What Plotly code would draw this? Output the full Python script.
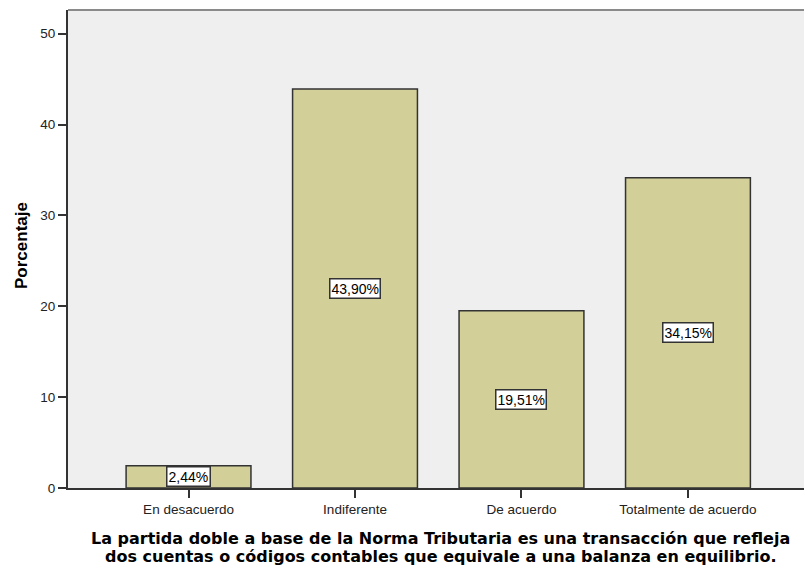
import plotly.graph_objects as go

categories = ["En desacuerdo", "Indiferente", "De acuerdo", "Totalmente de acuerdo"]
values = [2.44, 43.90, 19.51, 34.15]
labels = ["2,44%", "43,90%", "19,51%", "34,15%"]
y_ticks = [0, 10, 20, 30, 40, 50]
x_title_lines = [
    "La partida doble a base de la Norma Tributaria es una transacción que refleja",
    "dos cuentas o códigos contables que equivale a una balanza en equilibrio.",
]
y_title = "Porcentaje"

W, H = 804, 566
ML, MR, MT, MB = 68, 0, 10, 78
plot_w = W - ML - MR
plot_h = H - MT - MB

def px_x(px):
    return (px - ML) / plot_w

def px_y(py):
    return (H - MB - py) / plot_h

xs = list(range(len(categories)))

fig = go.Figure()
fig.add_trace(go.Bar(
    x=xs, y=values, width=0.75,
    marker=dict(color="#d3cf98", line=dict(color="#333333", width=1.5)),
    hoverinfo="skip",
))

tick_font = dict(family="Liberation Sans, Arial", size=13.5, color="#222")

annotations = []
for i, (v, t) in enumerate(zip(values, labels)):
    annotations.append(dict(
        x=i, y=v / 2, xref="x", yref="y", text=t, showarrow=False,
        font=dict(family="Liberation Sans, Arial", size=14, color="#000"),
        bgcolor="white", bordercolor="#333333", borderwidth=1.5, borderpad=1,
    ))

for j, line in enumerate(x_title_lines):
    annotations.append(dict(
        x=px_x(440), y=px_y(538 + 18 * j), xref="paper", yref="paper",
        text="<b>" + line + "</b>", showarrow=False,
        font=dict(family="DejaVu Sans", size=16, color="#000"),
        xanchor="center", yanchor="middle",
    ))

annotations.append(dict(
    x=px_x(21), y=px_y(245), xref="paper", yref="paper",
    text="<b>" + y_title + "</b>", showarrow=False, textangle=-90,
    font=dict(family="Liberation Sans, Arial", size=17, color="#000"),
    xanchor="center", yanchor="middle",
))

fig.update_layout(
    width=W, height=H,
    margin=dict(l=ML, r=MR, t=MT, b=MB),
    paper_bgcolor="white", plot_bgcolor="#efefef",
    showlegend=False,
    annotations=annotations,
    xaxis=dict(
        tickmode="array", tickvals=xs, ticktext=categories,
        range=[-0.724, 3.697], showgrid=False, zeroline=False,
        showline=True, linecolor="#333333", linewidth=2,
        ticks="outside", ticklen=8, tickcolor="#333333", tickwidth=1.5,
        tickfont=tick_font, automargin=False, fixedrange=True,
    ),
    yaxis=dict(
        tickmode="array", tickvals=y_ticks,
        range=[0, 52.6], showgrid=False, zeroline=False,
        showline=True, linecolor="#333333", linewidth=2,
        ticks="outside", ticklen=8, tickcolor="#333333", tickwidth=1.5,
        tickfont=tick_font, automargin=False, fixedrange=True,
    ),
    shapes=[dict(type="line", xref="paper", yref="paper", x0=0, x1=1, y0=1, y1=1,
                 line=dict(color="#8a8a8a", width=2))],
)

fig.write_html("out.html", post_script="document.body.style.margin='0';",
               config={"displayModeBar": False})
